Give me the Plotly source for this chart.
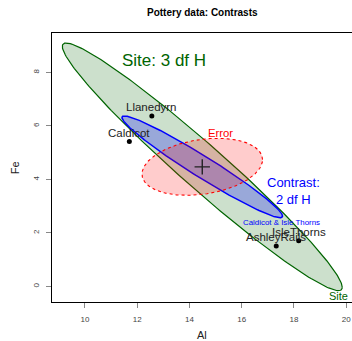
import numpy as np
import plotly.graph_objects as go

# ---- data ----
sites = ["AshleyRails", "Caldicot", "IsleThorns", "Llanedyrn"]
site_al = [17.32, 11.70, 18.18, 12.56]
site_fe = [1.51, 5.415, 1.71, 6.37]
grand_mean = [14.49, 4.47]

# ellipse shape matrices (Al var, Fe var, covariance) in data units
ellipse_names = ["Site", "Contrast", "Error"]
ell_var_al = [28.68, 9.44, 5.32]
ell_var_fe = [21.40, 3.61, 1.135]
ell_cov = [-24.09, -5.66, 0.62]

x_ticks = [10, 12, 14, 16, 18, 20]
y_ticks = [0, 2, 4, 6, 8]

FONT = "Liberation Sans, Arial, Helvetica, sans-serif"

styles = {
    "Site": dict(line="darkgreen", fill="rgba(0,100,0,0.2)", width=1.2, dash="solid"),
    "Contrast": dict(line="blue", fill="rgba(0,0,255,0.25)", width=1.5, dash="solid"),
    "Error": dict(line="red", fill="rgba(255,0,0,0.2)", width=1.1, dash="3px,3px"),
}

fig = go.Figure()
t = np.linspace(0, 2 * np.pi, 241)
circle = np.vstack([np.cos(t), np.sin(t)])
for name, va, vf, cv in zip(ellipse_names, ell_var_al, ell_var_fe, ell_cov):
    M = np.array([[va, cv], [cv, vf]])
    L = np.linalg.cholesky(M)
    pts = L @ circle
    st = styles[name]
    fig.add_trace(go.Scatter(
        x=grand_mean[0] + pts[0], y=grand_mean[1] + pts[1], mode="lines",
        fill="toself", fillcolor=st["fill"],
        line=dict(color=st["line"], width=st["width"], dash=st["dash"]),
        hoverinfo="skip", showlegend=False))

fig.add_trace(go.Scatter(x=site_al, y=site_fe, mode="markers",
                         marker=dict(color="black", size=5), showlegend=False))
fig.add_trace(go.Scatter(x=[grand_mean[0]], y=[grand_mean[1]], mode="markers",
                         marker=dict(symbol="cross-thin", size=11,
                                     line=dict(color="#222222", width=1.4)),
                         showlegend=False))

ann = []
for s, a, f in zip(sites, site_al, site_fe):
    ann.append(dict(x=a, y=f, text=s, showarrow=False, yanchor="bottom",
                    yshift=1, font=dict(size=11.5, color="#222222", family=FONT)))

ann += [
    dict(x=11.33, y=8.46, text="Site: 3 df H", showarrow=False, xanchor="left",
         font=dict(size=17, color="darkgreen", family=FONT)),
    dict(x=19.70, y=-0.35, text="Site", showarrow=False,
         font=dict(size=11, color="darkgreen", family=FONT)),
    dict(x=15.19, y=5.73, text="Error", showarrow=False,
         font=dict(size=11.3, color="red", family=FONT)),
    dict(x=17.99, y=3.55, text="Contrast:<br>2 df H", showarrow=False, align="center",
         font=dict(size=13, color="blue", family=FONT)),
    dict(x=17.52, y=2.39, text="Caldicot & Isle Thorns", showarrow=False,
         font=dict(size=7.9, color="blue", family=FONT)),
    dict(xref="paper", yref="paper", x=0.5, y=1, yshift=20.6, yanchor="middle",
         text="<b>Pottery data: Contrasts</b>",
         showarrow=False, font=dict(size=10, color="black", family=FONT)),
    dict(xref="paper", yref="paper", x=0.5, y=0, yshift=-32.5, yanchor="middle", text="Al",
         showarrow=False, font=dict(size=11, color="#222222", family=FONT)),
    dict(xref="paper", yref="paper", x=0, y=0.5, xshift=-37.3, xanchor="center",
         yanchor="middle", text="Fe", textangle=-90,
         showarrow=False, font=dict(size=11, color="#222222", family=FONT)),
]

fig.update_layout(
    width=352, height=341,
    margin=dict(l=52, r=0, t=33, b=39),
    paper_bgcolor="white", plot_bgcolor="white",
    annotations=ann,
    font=dict(family=FONT),
    xaxis=dict(range=[8.74, 20.22], tickvals=x_ticks, showgrid=False, zeroline=False,
               showline=True, mirror=True, linecolor="black", linewidth=1.3,
               ticks="outside", ticklen=5, tickcolor="#888888", tickwidth=1,
               tickfont=dict(size=8, color="#444444", family=FONT), ticklabelstandoff=4),
    yaxis=dict(range=[-0.58, 9.47], tickvals=y_ticks, showgrid=False, zeroline=False,
               showline=True, mirror=False, linecolor="black", linewidth=1.3,
               ticks="outside", ticklen=5, tickcolor="#888888", tickwidth=1, tickangle=-90,
               tickfont=dict(size=8, color="#444444", family=FONT), ticklabelstandoff=4),
)

fig.write_html("out.html")
